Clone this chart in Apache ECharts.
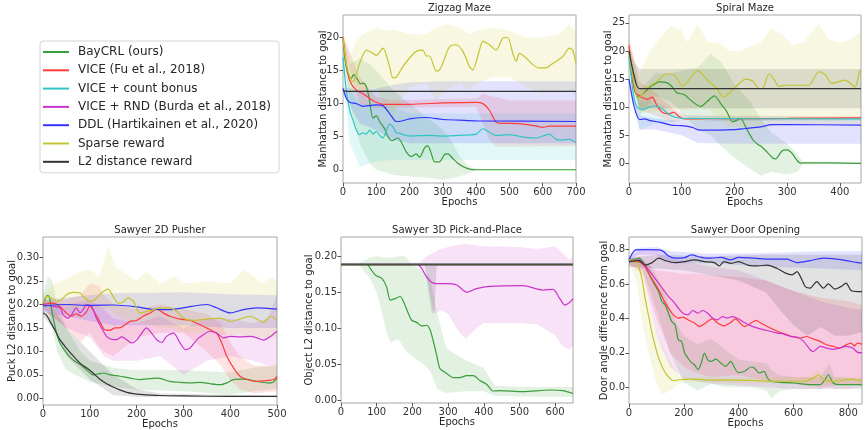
<!DOCTYPE html>
<html>
<head>
<meta charset="utf-8">
<script src="https://cdn.jsdelivr.net/npm/echarts@6/dist/echarts.min.js"></script>
<style>
  html, body { margin: 0; padding: 0; background: #fff; }
  #chart { width: 866px; height: 430px; }
</style>
</head>
<body>
<div id="chart"></div>
<script>
// legend names and line colours
const methods = ['BayCRL (ours)', 'VICE (Fu et al., 2018)', 'VICE + count bonus', 'VICE + RND (Burda et al., 2018)',
  'DDL (Hartikainen et al., 2020)', 'Sparse reward', 'L2 distance reward'];
const colors = ['#3a9e3a', '#ff3b3b', '#33c5c5', '#cc33cc', '#3333ff', '#c4c431', '#333333'];

// ---- Zigzag Maze ----
const zzXTicks = [0, 100, 200, 300, 400, 500, 600, 700];
const zzYTicks = [0, 5, 10, 15, 20];
const zzGreen = [[0,20],[5,17],[15,14.5],[25,13.8],[32,14.4],[42,13.8],[52,13],[60,13.1],[68,12.8],[78,11],[90,7.8],[100,8.2],[110,7.3],[125,6.2],[135,5],[148,4.4],[165,4.8],[175,4.2],[190,2.7],[205,2],[220,2.4],[230,1.9],[245,3.3],[255,3.6],[265,2.5],[275,1.2],[290,1.2],[305,2.3],[315,2.4],[330,1.7],[345,1],[360,0.5],[380,0.1],[400,0],[550,0],[700,0]];
const zzGreenBand = [[0,19,20.5],[20,10,16],[50,4,16.8],[80,1,16],[100,0,15],[150,-0.8,12],[200,-1,10],[250,-1.2,8],[300,-1.5,6],[330,-1.3,4],[350,-1,2],[380,-0.5,0.5],[400,-0.1,0.1],[700,-0.1,0.1]];
const zzRed = [[0,20],[10,16],[20,13.5],[40,12],[60,11.5],[80,10.8],[100,10.2],[120,9.9],[200,9.9],[300,10.1],[400,10.2],[420,10],[440,9],[460,7.2],[480,7],[500,7],[560,6.8],[590,6.5],[600,6.4],[620,6.6],[700,6.6]];
const zzRedBand = [[0,19,20.5],[50,10,14],[100,9.3,11],[150,9.4,10.5],[400,9.5,10.8],[420,7,11.5],[440,4.5,11.2],[460,3.5,11],[500,3.5,10.5],[700,3.6,10.5]];
const zzCyan = [[0,17],[10,12],[20,9],[30,7.5],[40,6],[50,5.3],[60,5.6],[70,5.4],[80,6],[90,5.4],[100,5.8],[110,5.2],[120,4.8],[130,5.9],[140,6.9],[150,6.5],[160,5.6],[170,5.5],[200,5.1],[250,5.2],[300,5.1],[350,5.2],[400,5.4],[420,6.2],[440,5.7],[460,5.2],[500,5.3],[550,4.9],[580,4.8],[600,5.1],[620,5.4],[640,4.6],[660,4.5],[680,4.6],[700,4.1]];
const zzCyanBand = [[0,15,19],[20,4,12],[50,0.5,10],[100,1.2,10],[150,1.5,9.5],[200,1.5,8.5],[700,1.5,8.5]];
const zzBlue = [[0,12.3],[10,10.8],[20,10.2],[40,10],[60,9.6],[80,9.7],[100,9.8],[120,9.7],[140,8.5],[160,7.3],[170,7.3],[200,7.7],[250,7.9],[300,7.6],[350,7.5],[400,7.4],[700,7.3]];
const zzBlueBand = [[0,11.5,12.5],[50,7,12],[100,6,12.3],[150,4.5,12.8],[200,4,13.2],[300,4,13.4],[700,4,13.4]];
const zzYellow = [[0,20],[10,16],[20,14.1],[30,13.3],[50,16.1],[70,18.1],[90,17.6],[100,17.3],[120,18.4],[140,15.6],[150,13.9],[160,14],[180,15.6],[200,16.9],[220,17.9],[240,18.1],[250,17.2],[260,17.2],[280,14.9],[290,15.1],[300,16.1],[320,18.6],[340,18.9],[360,17.9],[380,15.6],[390,15.1],[410,18.1],[420,19.4],[440,18.9],[460,18.1],[480,19.9],[495,20],[510,17.6],[520,16.4],[530,17.6],[550,16.9],[570,15.9],[590,15.4],[610,15.4],[625,15.9],[640,16.4],[660,17.1],[680,18.4],[690,18.1],[700,16.1]];
const zzYellowBand = [[0,19,20.5],[20,11.5,17],[40,12,19.5],[60,12,20.5],[100,12.5,21.5],[130,9,21],[150,8,21.2],[180,11,20.8],[200,12.5,20.5],[250,13,20.5],[280,10.5,21.5],[310,12,22],[350,13,21.5],[380,12,20.5],[400,13,21],[450,14,21.5],[500,14,21],[550,12.5,20],[600,11.5,20],[650,12,20.5],[680,12,22],[700,11.5,21]];
const zzBlack = [[0,12],[10,11.85],[700,11.85]];

// ---- Spiral Maze ----
const spXTicks = [0, 100, 200, 300, 400];
const spYTicks = [0, 5, 10, 15, 20, 25];
const spGreen = [[0,20],[8,14],[17,11.8],[28,12.5],[40,13.6],[58,14.5],[70,14.4],[80,13.8],[90,12.6],[105,12.2],[120,11],[136,10.1],[148,11],[162,12],[175,10.5],[185,9.3],[196,7.4],[203,7.6],[212,8],[222,6.3],[235,4.2],[245,3.3],[250,3.1],[262,2],[272,1],[278,0.8],[290,2.2],[300,2.4],[310,1.7],[318,0.6],[325,0.05],[335,0.1],[440,0]];
const spGreenBand = [[0,19,21],[20,8.5,13],[50,12,16],[80,11,16],[100,9,16.5],[130,6,17],[155,5,19.5],[175,3,18],[200,1,14],[230,-1,11],[250,-2.2,8],[270,-1.5,5.5],[300,-2,3.5],[320,-1.5,1.5],[330,-0.2,0.3],[440,-0.1,0.1]];
const spRed = [[0,21],[6,16],[12,12.6],[25,11.7],[35,11.4],[44,11.8],[53,10.3],[63,9.1],[75,8.8],[85,9.1],[94,8.4],[104,7.9],[150,7.95],[300,8],[440,8.1]];
const spRedBand = [[0,19.5,22.5],[20,9.5,14.5],[50,8.5,12.5],[80,7.5,10],[110,7.6,8.5],[440,7.8,8.4]];
const spCyan = [[0,19],[6,13.9],[11,11],[19,9.7],[28,9.6],[38,10],[50,10.2],[63,9.7],[75,8.8],[88,8.2],[104,8],[440,7.9]];
const spCyanBand = [[0,17,20],[20,6,11],[50,7,11],[100,7.5,8.5],[440,7.6,8.2]];
const spBlue = [[0,15],[10,10],[20,7.8],[30,7.9],[40,7.6],[60,7.3],[80,6.8],[100,6.7],[120,6.4],[130,6],[140,5.9],[200,6],[220,6.2],[250,6.5],[270,6.9],[300,6.9],[440,6.8]];
const spBlueBand = [[0,14,15.5],[20,6,8.5],[50,6,8],[100,5,7.5],[130,3.6,7.5],[200,3.5,8],[440,3.5,8]];
const spYellow = [[0,20],[8,15],[17,11.6],[25,12.3],[33,13.3],[52,14.5],[70,15.9],[86,15.7],[102,13.7],[115,15],[130,16.5],[152,14.5],[165,13.5],[180,11.8],[190,12.5],[202,13.6],[221,15],[235,14.6],[247,13.3],[255,13.5],[265,15.9],[275,15],[284,13.7],[297,13.9],[320,13.9],[341,13.9],[360,16.3],[372,15.8],[385,14.2],[400,14.6],[410,14.8],[429,13.6],[437,16.3],[440,16.5]];
const spYellowBand = [[0,19,21],[20,9,16],[40,9,20],[60,9.5,22.5],[80,9.5,24.5],[100,9.5,23.7],[110,9.5,21.5],[130,9.7,24.8],[150,9.7,21.5],[170,8,21.5],[190,6.5,20],[210,6.5,20],[250,6.5,21.5],[270,6.5,24],[290,7,23],[310,7,21],[330,7,21.5],[360,7,24.8],[380,7,22],[400,7,21.5],[420,7,22],[440,7,23.5]];
const spBlack = [[0,20],[10,15.5],[20,13.3],[440,13.3]];
const spBlackBand = [[0,19,21],[10,13,18],[20,9.8,16.8],[440,9.8,16.8]];

// ---- Sawyer 2D Pusher ----
const puXTicks = [0, 100, 200, 300, 400, 500];
const puYTicks = [0, 0.05, 0.1, 0.15, 0.2, 0.25, 0.3];
const puGreen = [[0,0.2],[7,0.217],[11,0.219],[14,0.214],[21,0.175],[29,0.139],[36,0.118],[50,0.097],[64,0.082],[79,0.072],[93,0.061],[107,0.05],[118,0.052],[129,0.054],[143,0.05],[164,0.047],[186,0.043],[207,0.04],[229,0.042],[246,0.043],[271,0.036],[293,0.034],[314,0.033],[336,0.034],[357,0.031],[379,0.029],[393,0.033],[407,0.04],[429,0.041],[457,0.036],[479,0.033],[489,0.033],[500,0.043]];
const puGreenBand = [[0,0.18,0.22],[10,0.19,0.26],[20,0.15,0.25],[30,0.1,0.2],[50,0.06,0.15],[80,0.045,0.1],[100,0.035,0.08],[150,0.025,0.065],[200,0.018,0.06],[300,0.015,0.06],[400,0.008,0.055],[450,0.015,0.065],[500,0.02,0.07]];
const puRed = [[0,0.2],[21,0.203],[36,0.196],[50,0.182],[61,0.175],[71,0.18],[82,0.175],[93,0.185],[100,0.197],[111,0.182],[121,0.164],[132,0.146],[143,0.145],[154,0.15],[164,0.15],[175,0.157],[186,0.164],[200,0.166],[214,0.175],[229,0.182],[243,0.19],[257,0.182],[271,0.175],[293,0.169],[314,0.166],[336,0.157],[357,0.146],[371,0.139],[382,0.118],[393,0.089],[407,0.065],[421,0.047],[436,0.04],[457,0.036],[479,0.038],[493,0.04],[500,0.047]];
const puRedBand = [[0,0.19,0.21],[50,0.15,0.21],[80,0.12,0.22],[100,0.14,0.245],[120,0.11,0.24],[130,0.1,0.22],[150,0.09,0.2],[200,0.13,0.19],[250,0.14,0.2],[300,0.14,0.19],[350,0.1,0.18],[380,0.07,0.16],[400,0.04,0.12],[420,0.02,0.09],[450,0.01,0.07],[500,0.015,0.07]];
const puMagenta = [[0,0.2],[21,0.196],[36,0.193],[43,0.178],[54,0.171],[61,0.178],[71,0.193],[79,0.182],[86,0.189],[93,0.2],[104,0.196],[114,0.171],[125,0.15],[136,0.132],[146,0.126],[157,0.125],[168,0.131],[179,0.125],[189,0.118],[200,0.124],[211,0.139],[221,0.15],[232,0.139],[243,0.125],[254,0.119],[264,0.132],[279,0.139],[293,0.118],[304,0.104],[314,0.107],[329,0.125],[343,0.136],[357,0.143],[371,0.139],[386,0.129],[400,0.132],[421,0.131],[443,0.132],[457,0.129],[471,0.124],[486,0.132],[500,0.143]];
const puMagentaBand = [[0,0.19,0.21],[50,0.15,0.2],[100,0.13,0.21],[130,0.09,0.19],[150,0.08,0.17],[200,0.08,0.16],[250,0.09,0.175],[300,0.05,0.15],[350,0.08,0.17],[400,0.09,0.17],[450,0.08,0.16],[480,0.07,0.17],[500,0.07,0.22]];
const puBlue = [[0,0.197],[50,0.2],[100,0.198],[150,0.199],[200,0.195],[229,0.19],[271,0.189],[300,0.193],[350,0.2],[371,0.193],[400,0.182],[428,0.189],[457,0.193],[500,0.19]];
const puBlueBand = [[0,0.185,0.21],[50,0.175,0.215],[100,0.165,0.22],[150,0.156,0.224],[300,0.156,0.226],[400,0.15,0.222],[500,0.15,0.22]];
const puYellow = [[0,0.203],[7,0.217],[18,0.214],[29,0.207],[39,0.21],[50,0.221],[64,0.226],[79,0.225],[89,0.214],[100,0.207],[111,0.21],[125,0.225],[139,0.233],[150,0.217],[161,0.203],[171,0.205],[182,0.214],[193,0.207],[207,0.182],[221,0.185],[236,0.189],[250,0.193],[271,0.193],[286,0.185],[300,0.171],[321,0.166],[350,0.169],[379,0.171],[400,0.164],[421,0.169],[443,0.175],[457,0.169],[471,0.162],[486,0.175],[500,0.166]];
const puYellowBand = [[0,0.19,0.22],[20,0.19,0.24],[50,0.19,0.255],[80,0.19,0.27],[100,0.2,0.275],[120,0.19,0.26],[140,0.19,0.325],[155,0.18,0.28],[170,0.17,0.27],[200,0.16,0.25],[220,0.16,0.27],[250,0.15,0.245],[280,0.15,0.26],[300,0.14,0.245],[350,0.14,0.25],[400,0.135,0.245],[430,0.135,0.275],[450,0.13,0.26],[470,0.13,0.245],[490,0.13,0.26],[500,0.13,0.25]];
const puBlack = [[0,0.182],[7,0.178],[14,0.166],[25,0.146],[36,0.125],[50,0.107],[64,0.091],[79,0.075],[93,0.065],[107,0.054],[121,0.041],[136,0.031],[150,0.024],[164,0.018],[179,0.0127],[193,0.01],[207,0.0085],[250,0.006],[300,0.005],[400,0.004],[500,0.004]];
const puBlackBand = [[0,0.175,0.185],[30,0.14,0.18],[50,0.09,0.15],[100,0.04,0.1],[150,0.007,0.05],[200,0.003,0.02],[250,0.003,0.01],[500,0.002,0.006]];

// ---- Sawyer 3D Pick-and-Place ----
const pkXTicks = [0, 100, 200, 300, 400, 500, 600];
const pkYTicks = [0, 0.05, 0.1, 0.15, 0.2];
const pkGreen = [[0,0.189],[73,0.189],[82,0.183],[96,0.174],[115,0.169],[128,0.157],[138,0.139],[152,0.141],[166,0.144],[175,0.137],[189,0.12],[198,0.111],[212,0.108],[226,0.103],[240,0.104],[250,0.097],[259,0.081],[268,0.0625],[277,0.044],[296,0.037],[315,0.031],[333,0.031],[352,0.034],[371,0.034],[389,0.027],[408,0.022],[426,0.0125],[445,0.013],[510,0.0116],[585,0.0139],[622,0.013],[650,0.009]];
const pkGreenBand = [[0,0.188,0.19],[50,0.187,0.191],[80,0.17,0.198],[100,0.15,0.2],[130,0.09,0.198],[140,0.08,0.198],[160,0.085,0.2],[180,0.07,0.2],[200,0.06,0.188],[230,0.05,0.18],[250,0.04,0.17],[270,0.015,0.12],[290,0.01,0.08],[300,0.01,0.07],[350,0.012,0.055],[400,0.012,0.045],[430,0.006,0.02],[500,0.005,0.018],[650,0.004,0.018]];
const pkMagenta = [[0,0.189],[212,0.189],[226,0.183],[240,0.171],[254,0.164],[268,0.162],[296,0.162],[324,0.16],[352,0.15],[380,0.155],[417,0.158],[510,0.159],[566,0.153],[594,0.154],[613,0.141],[627,0.132],[641,0.136],[650,0.141]];
const pkMagentaBand = [[0,0.188,0.19],[220,0.187,0.191],[240,0.175,0.2],[260,0.12,0.205],[280,0.125,0.21],[300,0.12,0.213],[330,0.095,0.216],[350,0.085,0.217],[380,0.1,0.215],[400,0.107,0.214],[500,0.107,0.213],[550,0.105,0.21],[600,0.09,0.214],[620,0.075,0.205],[640,0.07,0.195],[650,0.075,0.2]];
const pkRed = [[0,0.1885],[650,0.1885]];
const pkCyan = [[0,0.189],[650,0.189]];
const pkBlue = [[0,0.1895],[650,0.1895]];
const pkYellow = [[0,0.189],[650,0.189]];
const pkBlack = [[0,0.188],[650,0.188]];
const pkBlackBand = [[0,0.187,0.19],[235,0.187,0.19],[245,0.15,0.19],[255,0.12,0.19],[262,0.125,0.19],[268,0.187,0.19],[650,0.187,0.19]];

// ---- Sawyer Door Opening ----
const drXTicks = [0, 200, 400, 600, 800];
const drYTicks = [0, 0.2, 0.4, 0.6, 0.8];
const drGreen = [[0,0.74],[24,0.744],[36,0.75],[54,0.72],[72,0.662],[90,0.605],[108,0.556],[120,0.498],[132,0.479],[144,0.43],[156,0.382],[168,0.363],[180,0.276],[192,0.266],[203,0.199],[215,0.17],[227,0.145],[239,0.131],[251,0.102],[263,0.137],[275,0.199],[287,0.16],[299,0.151],[317,0.164],[335,0.141],[353,0.122],[371,0.151],[389,0.102],[400,0.085],[421,0.093],[445,0.118],[457,0.112],[475,0.083],[493,0.093],[505,0.054],[517,0.035],[553,0.029],[601,0.025],[661,0.015],[697,0.015],[715,0.044],[727,0.073],[745,0.025],[768,0.015],[850,0.015]];
const drGreenBand = [[0,0.72,0.75],[40,0.72,0.76],[80,0.55,0.7],[100,0.45,0.65],[130,0.3,0.55],[150,0.2,0.45],[180,0.1,0.35],[200,0.03,0.3],[250,-0.02,0.25],[300,0.02,0.28],[350,0,0.22],[400,0,0.16],[450,0,0.15],[500,-0.02,0.14],[520,-0.06,0.1],[550,-0.02,0.07],[600,-0.01,0.06],[700,-0.01,0.06],[730,0,0.14],[750,-0.01,0.06],[850,-0.01,0.05]];
const drRed = [[0,0.736],[36,0.73],[54,0.71],[72,0.662],[90,0.614],[108,0.566],[126,0.508],[144,0.46],[162,0.421],[180,0.402],[197,0.408],[215,0.392],[239,0.373],[257,0.353],[275,0.369],[293,0.389],[305,0.397],[323,0.373],[347,0.357],[371,0.377],[389,0.397],[407,0.37],[421,0.353],[445,0.373],[463,0.389],[481,0.373],[505,0.353],[529,0.334],[553,0.318],[577,0.305],[601,0.292],[625,0.286],[649,0.295],[673,0.28],[697,0.267],[721,0.247],[745,0.238],[768,0.228],[792,0.247],[810,0.257],[822,0.241],[834,0.257],[850,0.25]];
const drRedBand = [[0,0.72,0.75],[50,0.65,0.73],[100,0.4,0.68],[150,0.2,0.67],[200,0.12,0.66],[250,0.08,0.66],[300,0.06,0.65],[400,0.07,0.64],[500,0.04,0.62],[600,0.02,0.56],[700,0,0.52],[800,0.02,0.5],[850,0.01,0.48]];
const drMagenta = [[0,0.736],[36,0.74],[54,0.716],[72,0.682],[90,0.643],[108,0.605],[126,0.566],[144,0.527],[162,0.498],[180,0.46],[197,0.43],[215,0.421],[233,0.446],[251,0.43],[269,0.446],[287,0.43],[305,0.402],[323,0.392],[341,0.411],[359,0.402],[377,0.411],[397,0.4],[421,0.376],[445,0.357],[469,0.344],[493,0.334],[517,0.324],[541,0.315],[565,0.309],[589,0.295],[613,0.292],[637,0.267],[661,0.218],[673,0.208],[697,0.238],[721,0.228],[745,0.22],[768,0.228],[792,0.238],[816,0.228],[834,0.203],[850,0.2]];
const drMagentaBand = [[0,0.71,0.76],[50,0.68,0.8],[100,0.3,0.8],[150,0.12,0.75],[200,0.05,0.73],[300,0.02,0.7],[400,0.01,0.68],[500,0,0.62],[600,-0.01,0.56],[700,-0.01,0.5],[800,-0.01,0.46],[850,0,0.45]];
const drBlue = [[0,0.74],[12,0.778],[24,0.798],[60,0.8],[108,0.798],[126,0.788],[144,0.763],[168,0.75],[203,0.753],[227,0.769],[263,0.755],[299,0.75],[335,0.755],[371,0.74],[400,0.755],[457,0.75],[517,0.744],[577,0.744],[613,0.724],[661,0.736],[709,0.75],[757,0.744],[792,0.736],[834,0.724],[850,0.722]];
const drBlueBand = [[0,0.72,0.76],[30,0.77,0.81],[100,0.77,0.815],[150,0.72,0.79],[300,0.72,0.775],[500,0.7,0.78],[700,0.69,0.79],[850,0.68,0.79]];
const drYellow = [[0,0.74],[24,0.736],[36,0.7],[48,0.624],[60,0.508],[72,0.41],[84,0.315],[96,0.238],[108,0.17],[126,0.102],[144,0.06],[162,0.038],[180,0.044],[227,0.048],[300,0.042],[400,0.042],[517,0.035],[637,0.035],[673,0.054],[691,0.073],[709,0.044],[745,0.035],[792,0.044],[816,0.048],[830,0.04],[850,0.045]];
const drYellowBand = [[0,0.72,0.75],[30,0.6,0.75],[50,0.35,0.68],[80,0.15,0.45],[100,0.02,0.3],[120,-0.04,0.25],[150,-0.02,0.15],[180,0.02,0.07],[200,0.03,0.06],[400,0.025,0.055],[650,0.02,0.06],[690,0.03,0.1],[720,0.02,0.06],[850,0.02,0.06]];
const drBlack = [[0,0.73],[36,0.736],[60,0.71],[84,0.724],[108,0.75],[132,0.736],[168,0.724],[203,0.73],[239,0.74],[275,0.73],[311,0.724],[329,0.705],[347,0.73],[371,0.72],[400,0.73],[433,0.71],[469,0.705],[505,0.71],[541,0.69],[571,0.663],[595,0.653],[613,0.672],[631,0.624],[643,0.585],[661,0.576],[685,0.614],[709,0.576],[727,0.601],[751,0.57],[774,0.585],[792,0.605],[810,0.562],[834,0.556],[850,0.556]];
const drBlackBand = [[0,0.7,0.75],[100,0.69,0.77],[200,0.68,0.765],[300,0.65,0.76],[400,0.62,0.765],[500,0.55,0.77],[550,0.45,0.77],[600,0.36,0.77],[650,0.3,0.77],[700,0.35,0.77],[750,0.3,0.77],[800,0.3,0.77],[850,0.32,0.77]];

// each panel: [method index, line, band]
const panels = [
  { title: 'Zigzag Maze', box: [343, 15, 233, 168], xMax: 700, xTicks: zzXTicks, yMin: -2, yMax: 23.4, yTicks: zzYTicks,
    yName: 'Manhattan distance to goal', yGap: 15, digits: 0,
    series: [[0, zzGreen, zzGreenBand], [1, zzRed, zzRedBand], [2, zzCyan, zzCyanBand], [4, zzBlue, zzBlueBand], [5, zzYellow, zzYellowBand], [6, zzBlack, null]] },
  { title: 'Spiral Maze', box: [629, 15, 232, 168], xMax: 440, xTicks: spXTicks, yMin: -3.5, yMax: 26.4, yTicks: spYTicks,
    yName: 'Manhattan distance to goal', yGap: 16, digits: 0,
    series: [[0, spGreen, spGreenBand], [1, spRed, spRedBand], [2, spCyan, spCyanBand], [4, spBlue, spBlueBand], [5, spYellow, spYellowBand], [6, spBlack, spBlackBand]] },
  { title: 'Sawyer 2D Pusher', box: [43, 237, 234, 168], xMax: 500, xTicks: puXTicks, yMin: -0.0143, yMax: 0.344, yTicks: puYTicks,
    yName: 'Puck L2 distance to goal', yGap: 26, digits: 2,
    series: [[0, puGreen, puGreenBand], [1, puRed, puRedBand], [3, puMagenta, puMagentaBand], [4, puBlue, puBlueBand], [5, puYellow, puYellowBand], [6, puBlack, puBlackBand]] },
  { title: 'Sawyer 3D Pick-and-Place', box: [341, 237, 232, 166], xMax: 650, xTicks: pkXTicks, yMin: -0.0042, yMax: 0.2268, yTicks: pkYTicks,
    yName: 'Object L2 distance to goal', yGap: 27, digits: 2,
    series: [[0, pkGreen, pkGreenBand], [3, pkMagenta, pkMagentaBand], [1, pkRed, null], [2, pkCyan, null], [4, pkBlue, null], [5, pkYellow, null], [6, pkBlack, pkBlackBand]] },
  { title: 'Sawyer Door Opening', box: [629, 237, 233, 167], xMax: 850, xTicks: drXTicks, yMin: -0.097, yMax: 0.873, yTicks: drYTicks,
    yName: 'Door angle difference from goal', yGap: 20, digits: 1,
    series: [[0, drGreen, drGreenBand], [1, drRed, drRedBand], [3, drMagenta, drMagentaBand], [4, drBlue, drBlueBand], [5, drYellow, drYellowBand], [6, drBlack, drBlackBand]] }
];

function rgba(hex, a) {
  const n = parseInt(hex.slice(1), 16);
  return 'rgba(' + (n >> 16) + ',' + ((n >> 8) & 255) + ',' + (n & 255) + ',' + a + ')';
}

function bandSeries(gi, color, band) {
  return {
    type: 'custom', xAxisIndex: gi, yAxisIndex: gi, silent: true, z: 1,
    data: band, encode: { x: 0, y: [1, 2] },
    renderItem: function (params, api) {
      if (params.dataIndex !== 0) return null;
      const up = band.map(p => api.coord([p[0], p[2]]));
      const lo = band.map(p => api.coord([p[0], p[1]])).reverse();
      return { type: 'polygon', shape: { points: up.concat(lo) }, style: { fill: rgba(color, 0.14) } };
    }
  };
}

function lineSeries(gi, m, data) {
  return {
    type: 'line', name: methods[m], xAxisIndex: gi, yAxisIndex: gi, data: data,
    symbol: 'none', smooth: 0.25, silent: true, z: 3 + m,
    lineStyle: { color: colors[m], width: 1.2 }, itemStyle: { color: colors[m] }
  };
}

const font = 'DejaVu Sans';
const grids = [], xAxes = [], yAxes = [], titles = [], series = [];
panels.forEach((p, i) => {
  const [l, t, w, h] = p.box;
  grids.push({ left: l, top: t, width: w, height: h, show: true, borderColor: '#a8a8a8', borderWidth: 1,
    backgroundColor: 'transparent', containLabel: false, outerBoundsMode: 'none' });
  titles.push({ text: p.title, left: l + w / 2, top: t - 12, textAlign: 'center', padding: 0,
    textStyle: { fontSize: 10, fontWeight: 'normal', color: '#262626', fontFamily: font } });
  xAxes.push({
    gridIndex: i, type: 'value', min: 0, max: p.xMax, position: 'bottom',
    name: 'Epochs', nameLocation: 'middle', nameGap: 14, nameMoveOverlap: false,
    nameTextStyle: { fontSize: 10, color: '#262626', fontFamily: font },
    axisLine: { show: false, onZero: false }, splitLine: { show: false },
    axisTick: { show: true, length: 3.5, lineStyle: { color: '#555' }, customValues: p.xTicks },
    axisLabel: { customValues: p.xTicks, fontSize: 10, color: '#333', margin: 4, fontFamily: font }
  });
  yAxes.push({
    gridIndex: i, type: 'value', min: p.yMin, max: p.yMax, position: 'left',
    name: p.yName, nameLocation: 'middle', nameGap: p.yGap, nameMoveOverlap: false,
    nameTextStyle: { fontSize: 10, color: '#262626', fontFamily: font },
    axisLine: { show: false, onZero: false }, splitLine: { show: false },
    axisTick: { show: true, length: 3.5, lineStyle: { color: '#555' }, customValues: p.yTicks },
    axisLabel: { customValues: p.yTicks, fontSize: 10, color: '#333', margin: 4, fontFamily: font,
      formatter: v => Number(v).toFixed(p.digits) }
  });
  p.series.forEach(s => { if (s[2]) series.push(bandSeries(i, colors[s[0]], s[2])); });
  p.series.forEach(s => series.push(lineSeries(i, s[0], s[1])));
});

const chart = echarts.init(document.getElementById('chart'), null, { renderer: 'canvas' });
chart.setOption({
  animation: false,
  backgroundColor: '#fff',
  textStyle: { fontFamily: font },
  title: titles,
  legend: {
    orient: 'vertical', left: 40, top: 41, padding: [4, 8, 4, 3], itemGap: 4.3,
    itemWidth: 26, itemHeight: 2, icon: 'rect', selectedMode: false,
    borderColor: '#d4d4d4', borderWidth: 1, borderRadius: 3,
    textStyle: { fontSize: 12, color: '#262626', lineHeight: 14, padding: [0, 0, 0, 4], fontFamily: font },
    data: methods
  },
  grid: grids,
  xAxis: xAxes,
  yAxis: yAxes,
  series: series
});
</script>
</body>
</html>
